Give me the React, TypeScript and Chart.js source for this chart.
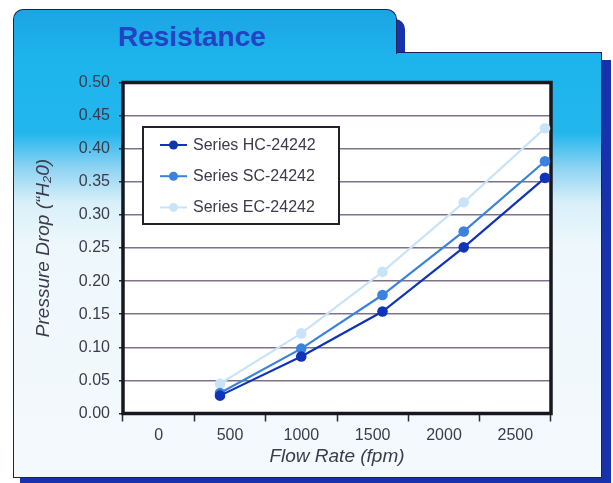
import React, { useEffect, useRef } from 'react';
import { Chart, registerables } from 'chart.js';

Chart.register(...registerables);

// ---- data ----
const xLabels = ['0', '500', '1000', '1500', '2000', '2500'];
const flowRates = [500, 1000, 1500, 2000, 2500];
const seriesNames = ['Series HC-24242', 'Series SC-24242', 'Series EC-24242'];
const hcValues = [0.027, 0.086, 0.154, 0.251, 0.356];
const scValues = [0.031, 0.098, 0.179, 0.275, 0.381];
const ecValues = [0.045, 0.121, 0.214, 0.319, 0.431];
const seriesColors = ['#1034b8', '#3b82de', '#c9e4f7'];

const FONT = "'Liberation Sans', Arial, Helvetica, sans-serif";
const TEXT = '#3b3b4c';

const plotBgPlugin = {
  id: 'plotBg',
  beforeDraw(chart: any) {
    const { ctx, chartArea } = chart;
    ctx.save();
    ctx.fillStyle = '#ffffff';
    ctx.fillRect(chartArea.left, chartArea.top, chartArea.right - chartArea.left, chartArea.bottom - chartArea.top);
    ctx.restore();
  },
};

const framePlugin = {
  id: 'frame',
  beforeDatasetsDraw(chart: any) {
    const { ctx, chartArea } = chart;
    ctx.save();
    ctx.lineWidth = 3.5;
    ctx.strokeStyle = '#17171f';
    ctx.strokeRect(chartArea.left, chartArea.top, chartArea.right - chartArea.left, chartArea.bottom - chartArea.top);
    ctx.restore();
  },
};

const boxLegendPlugin = {
  id: 'boxLegend',
  afterDatasetsDraw(chart: any) {
    const { ctx, chartArea } = chart;
    const x0 = chartArea.left + 20;
    const y0 = chartArea.top + 44.5;
    const w = 196;
    const h = 97;
    ctx.save();
    ctx.fillStyle = '#ffffff';
    ctx.fillRect(x0, y0, w, h);
    ctx.lineWidth = 2;
    ctx.strokeStyle = '#222228';
    ctx.strokeRect(x0, y0, w, h);
    chart.data.datasets.forEach((ds: any, i: number) => {
      const cy = y0 + 18 + i * 31.2;
      ctx.strokeStyle = ds.borderColor;
      ctx.lineWidth = 2;
      ctx.beginPath();
      ctx.moveTo(x0 + 17, cy);
      ctx.lineTo(x0 + 44, cy);
      ctx.stroke();
      ctx.fillStyle = ds.borderColor;
      ctx.beginPath();
      ctx.arc(x0 + 30.5, cy, 4.5, 0, Math.PI * 2);
      ctx.fill();
      ctx.fillStyle = TEXT;
      ctx.font = `16px ${FONT}`;
      ctx.textBaseline = 'middle';
      ctx.textAlign = 'left';
      ctx.fillText(ds.label, x0 + 50, cy + 0.5);
    });
    ctx.restore();
  },
};

const seriesValues = [hcValues, scValues, ecValues];

export default function App() {
  const canvasRef = useRef<HTMLCanvasElement | null>(null);

  useEffect(() => {
    if (!canvasRef.current) return;
    const chart = new Chart(canvasRef.current, {
      type: 'line',
      data: {
        labels: xLabels,
        datasets: seriesNames.map((name, i) => ({
          label: name,
          data: flowRates.map((f, j) => ({ x: f, y: seriesValues[i][j] })),
          xAxisID: 'xv',
          yAxisID: 'y',
          borderColor: seriesColors[i],
          backgroundColor: seriesColors[i],
          pointBackgroundColor: seriesColors[i],
          pointBorderWidth: 0,
          pointRadius: 5.3,
          pointHoverRadius: 5.3,
          borderWidth: 2.2,
          tension: 0,
          fill: false,
        })),
      },
      options: {
        animation: false,
        responsive: false,
        devicePixelRatio: 1,
        layout: { padding: { left: 20, right: 62, top: 82.5, bottom: 10 } },
        plugins: {
          legend: { display: false },
          title: { display: false },
          tooltip: { enabled: false },
        },
        scales: {
          xv: {
            type: 'linear',
            display: false,
            min: -97,
            max: 2537,
          },
          x: {
            type: 'category',
            position: 'bottom',
            offset: true,
            afterFit: (s: any) => { s.height = 59.5; },
            grid: {
              offset: true,
              drawOnChartArea: false,
              drawTicks: true,
              tickLength: 8,
              tickColor: '#2a2a33',
              tickWidth: 1.5,
            },
            border: { display: false },
            ticks: {
              color: TEXT,
              font: { family: FONT, size: 16 },
              padding: 4,
              maxRotation: 0,
              autoSkip: false,
            },
            title: {
              display: true,
              text: 'Flow Rate (fpm)',
              color: TEXT,
              font: { family: FONT, size: 19, style: 'italic' },
              padding: { top: 0, bottom: 5 },
            },
          },
          y: {
            type: 'linear',
            position: 'left',
            min: 0,
            max: 0.5,
            afterFit: (s: any) => { s.width = 103; },
            grid: {
              color: '#7f7189',
              lineWidth: 1.5,
              drawTicks: true,
              tickLength: 4,
              tickColor: '#2a2a33',
            },
            border: { display: false },
            ticks: {
              stepSize: 0.05,
              color: TEXT,
              font: { family: FONT, size: 16 },
              padding: 9,
              callback: (v: any) => Number(v).toFixed(2),
            },
            title: {
              display: true,
              text: 'Pressure Drop (\u201CH\u20820)',
              color: TEXT,
              font: { family: FONT, size: 19, style: 'italic' },
              padding: { top: 12, bottom: 0 },
            },
          },
        },
      },
      plugins: [plotBgPlugin, framePlugin, boxLegendPlugin],
    } as any);
    return () => chart.destroy();
  }, []);

  const navy = '#1b2150';
  const shadow = '#1832ae';

  return (
    <div style={{ position: 'fixed', left: 0, top: 0, width: 613, height: 483, background: '#ffffff', overflow: 'hidden' }}>
      {/* shadows */}
      <div style={{ position: 'absolute', left: 22, top: 19, width: 383, height: 40, background: shadow, borderRadius: '10px 10px 0 0' }} />
      <div style={{ position: 'absolute', left: 20, top: 60, width: 591, height: 423, background: shadow }} />
      {/* main panel */}
      <div
        style={{
          position: 'absolute', left: 13, top: 52, width: 589, height: 426, boxSizing: 'border-box',
          border: `1.5px solid ${navy}`,
          background: 'linear-gradient(to bottom, #1db4ec 0px, #22b6ec 80px, #8ed3f2 115px, #d9f0fa 150px, #eef8fc 195px, #f4f9fc 100%)',
        }}
      />
      {/* tab */}
      <div
        style={{
          position: 'absolute', left: 13, top: 9, width: 384, height: 45, boxSizing: 'border-box',
          borderTop: `1.5px solid ${navy}`, borderLeft: `1.5px solid ${navy}`, borderRight: `1.5px solid ${navy}`,
          borderRadius: '10px 10px 0 0',
          background: 'linear-gradient(to bottom, #1ca4e4, #1db3ec)',
        }}
      />
      <div
        style={{
          position: 'absolute', left: 118, top: 22, fontFamily: FONT, fontWeight: 'bold', fontSize: 28,
          lineHeight: '30px', color: '#2243c4', whiteSpace: 'nowrap',
        }}
      >
        Resistance
      </div>
      <canvas
        ref={canvasRef}
        width={613}
        height={483}
        style={{ position: 'absolute', left: 0, top: 0, width: 613, height: 483 }}
      />
    </div>
  );
}
